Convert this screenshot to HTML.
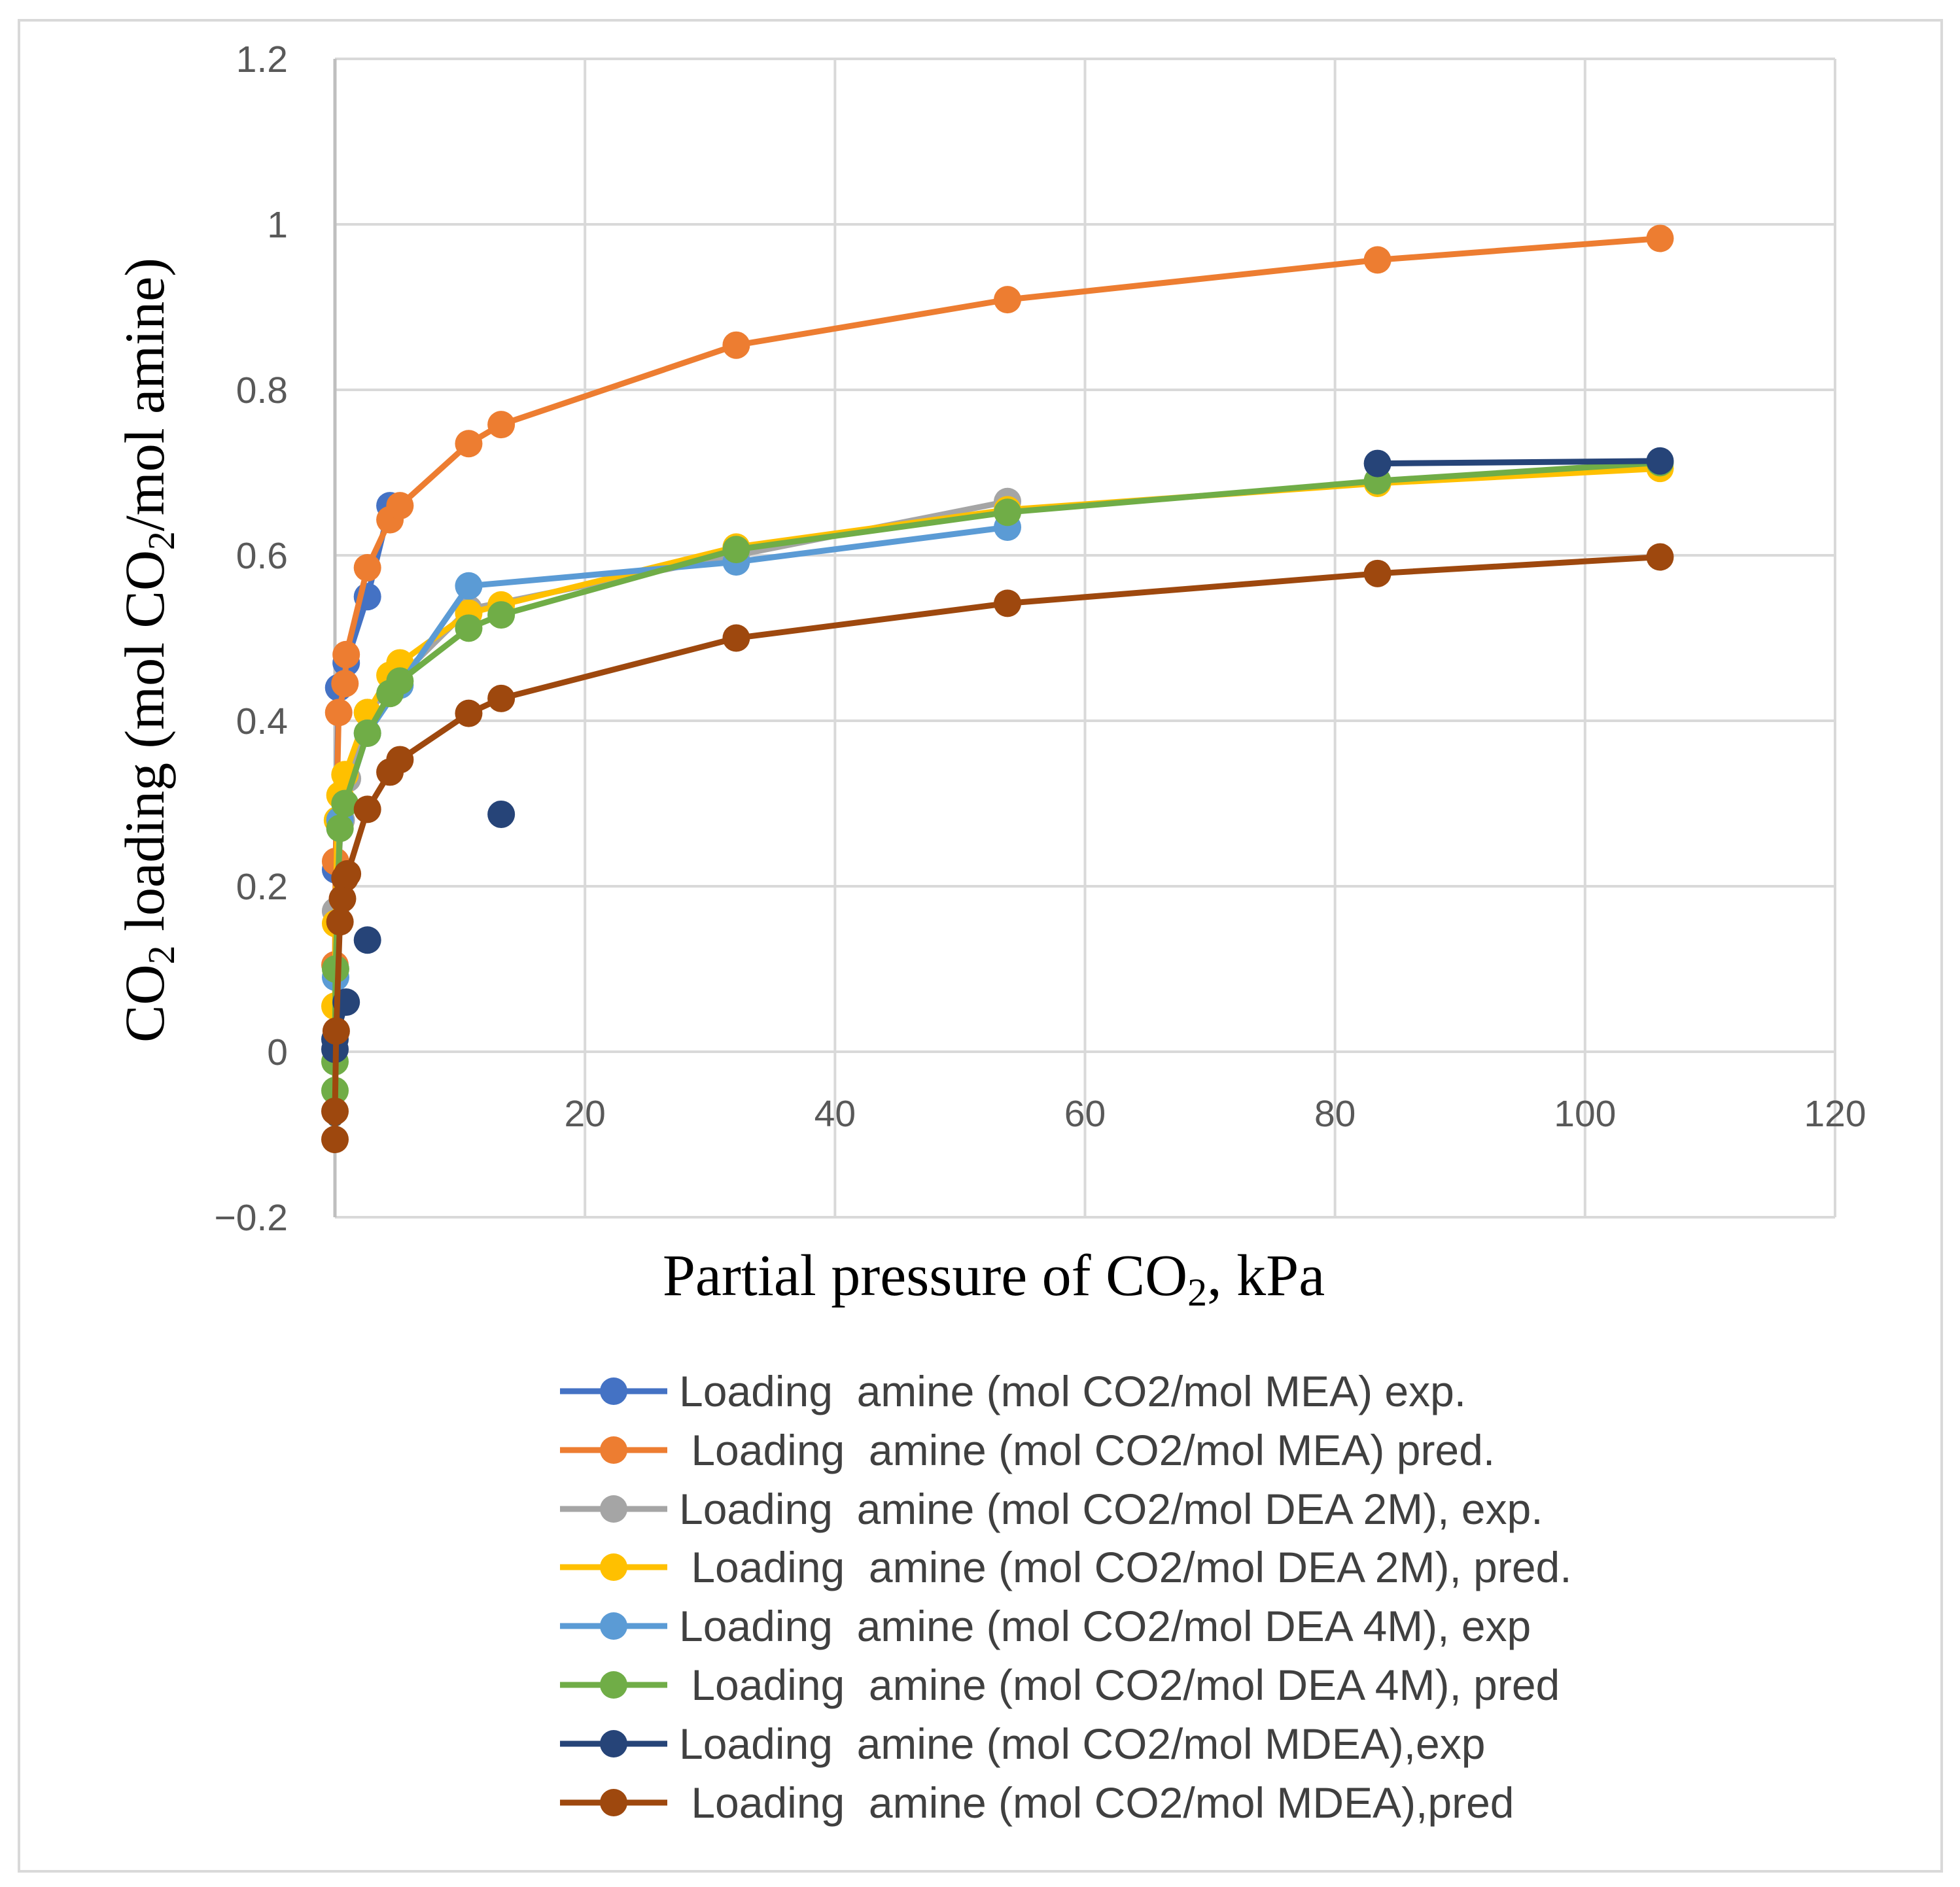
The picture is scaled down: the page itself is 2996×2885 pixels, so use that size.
<!DOCTYPE html>
<html><head><meta charset="utf-8"><style>
html,body{margin:0;padding:0;background:#fff;}
svg{display:block;}
</style></head><body>
<svg id="chart" width="2996" height="2885" viewBox="0 0 2996 2885" xmlns="http://www.w3.org/2000/svg">
<rect x="29" y="31" width="2939" height="2830" fill="#fff" stroke="#d9d9d9" stroke-width="4"/>
<g id="grid"></g>
<g id="ticks" font-family="Liberation Sans, sans-serif" font-size="57" fill="#595959"></g>
<g id="series"></g>
<text transform="translate(250,994) rotate(-90)" text-anchor="middle" font-family="Liberation Serif, serif" font-size="86" fill="#000">CO<tspan font-size="58" dy="16">2</tspan><tspan dy="-16"> loading (mol CO</tspan><tspan font-size="58" dy="16">2</tspan><tspan dy="-16">/mol amine)</tspan></text>
<text x="1519" y="1980" text-anchor="middle" font-family="Liberation Serif, serif" font-size="90" fill="#000">Partial pressure of CO<tspan font-size="60" dy="16">2</tspan><tspan dy="-16">, kPa</tspan></text>
<g id="legend" font-family="Liberation Sans, sans-serif" font-size="66" fill="#404040"></g>
</svg>
<script>
const xTicks = [0, 20, 40, 60, 80, 100, 120];
const yTicks = [-0.2, 0, 0.2, 0.4, 0.6, 0.8, 1, 1.2];
const yTickLabels = ["\u22120.2", "0", "0.2", "0.4", "0.6", "0.8", "1", "1.2"];
const seriesNames = [
 "Loading  amine (mol CO2/mol MEA) exp.",
 " Loading  amine (mol CO2/mol MEA) pred.",
 "Loading  amine (mol CO2/mol DEA 2M), exp.",
 " Loading  amine (mol CO2/mol DEA 2M), pred.",
 "Loading  amine (mol CO2/mol DEA 4M), exp",
 " Loading  amine (mol CO2/mol DEA 4M), pred",
 "Loading  amine (mol CO2/mol MDEA),exp",
 " Loading  amine (mol CO2/mol MDEA),pred"];
const seriesColors = ["#4472C4","#ED7D31","#A5A5A5","#FFC000","#5B9BD5","#70AD47","#264478","#9E480E"];
const meaExpX = [0.05, 0.3, 0.9, 2.6, 4.4];
const meaExpY = [0.22, 0.44, 0.47, 0.55, 0.66];
const meaPredX = [0, 0.05, 0.3, 0.8, 0.9, 2.6, 4.4, 5.2, 10.7, 13.3, 32.1, 53.8, 83.4, 106];
const meaPredY = [0.105, 0.23, 0.41, 0.445, 0.48, 0.585, 0.643, 0.66, 0.735, 0.758, 0.854, 0.909, 0.957, 0.983];
const dea2ExpX = [0.05, 0.5, 1, 2.6, 5, 10.7, 32.1, 53.8];
const dea2ExpY = [0.17, 0.28, 0.33, 0.41, 0.45, 0.535, 0.6, 0.665];
const dea2PredX = [0, 0.05, 0.2, 0.4, 0.8, 2.6, 4.4, 5.2, 10.7, 13.3, 32.1, 53.8, 83.4, 106];
const dea2PredY = [0.055, 0.155, 0.28, 0.31, 0.335, 0.41, 0.455, 0.47, 0.53, 0.54, 0.61, 0.655, 0.687, 0.705];
const dea4ExpX = [0.05, 0.4, 2.6, 5.2, 10.7, 32.1, 53.8];
const dea4ExpY = [0.09, 0.28, 0.385, 0.443, 0.563, 0.592, 0.634];
const dea4PredX = [0, 0, 0.05, 0.4, 0.8, 2.6, 4.4, 5.2, 10.7, 13.3, 32.1, 53.8, 83.4, 106];
const dea4PredY = [-0.047, -0.012, 0.1, 0.27, 0.3, 0.385, 0.433, 0.448, 0.512, 0.528, 0.607, 0.652, 0.69, 0.712];
const mdeaExpX = [0, 0, 0, 0.9, 0, 2.6, 0, 13.3, 0, 83.4, 106];
const mdeaExpY = [0.003, null, 0.015, 0.06, null, 0.135, null, 0.287, null, 0.711, 0.714];
const mdeaPredX = [0, 0, 0.1, 0.4, 0.6, 0.8, 1.0, 2.6, 4.4, 5.2, 10.7, 13.3, 32.1, 53.8, 83.4, 106];
const mdeaPredY = [-0.106, -0.072, 0.025, 0.157, 0.185, 0.21, 0.215, 0.293, 0.338, 0.353, 0.409, 0.427, 0.5, 0.542, 0.578, 0.598];

const NS = "http://www.w3.org/2000/svg";
const X0 = 512, X1 = 2805, Y0 = 1861, Y1 = 90;
function sx(v){ return X0 + (v - 0) / 120 * (X1 - X0); }
function sy(v){ return Y0 - (v + 0.2) / 1.4 * (Y0 - Y1); }
function mk(tag, attrs, parent){ const e = document.createElementNS(NS, tag); for (const k in attrs) e.setAttribute(k, attrs[k]); parent.appendChild(e); return e; }

const grid = document.getElementById('grid');
yTicks.forEach(t => {
  const l = mk('line', {x1: X0, x2: X1, y1: sy(t), y2: sy(t), stroke: '#d9d9d9', 'stroke-width': 4}, grid);
  
  
});
xTicks.forEach(t => {
  const l = mk('line', {x1: sx(t), x2: sx(t), y1: Y1, y2: Y0, stroke: t === 0 ? '#bfbfbf' : '#d9d9d9', 'stroke-width': t === 0 ? 5 : 4}, grid);
  
  
});
const ticks = document.getElementById('ticks');
yTicks.forEach((t, i) => {
  const e = mk('text', {x: 440, y: sy(t) + 20, 'text-anchor': 'end'}, ticks);
  e.textContent = yTickLabels[i];
  
  
});
xTicks.forEach(t => {
  const e = mk('text', {x: sx(t), y: 1722, 'text-anchor': 'middle'}, ticks);
  e.textContent = String(t);
  
  
});

const allX = [meaExpX, meaPredX, dea2ExpX, dea2PredX, dea4ExpX, dea4PredX, mdeaExpX, mdeaPredX];
const allY = [meaExpY, meaPredY, dea2ExpY, dea2PredY, dea4ExpY, dea4PredY, mdeaExpY, mdeaPredY];
const seriesG = document.getElementById('series');
allX.forEach((xs, si) => {
  const ys = allY[si];
  const g = mk('g', {}, seriesG);
  
  
  let d = '', pen = false;
  xs.forEach((x, i) => {
    if (ys[i] === null) { pen = false; return; }
    d += (pen ? 'L' : 'M') + sx(x).toFixed(1) + ' ' + sy(ys[i]).toFixed(1) + ' ';
    pen = true;
  });
  const p = mk('path', {d: d, fill: 'none', stroke: seriesColors[si], 'stroke-width': 9, 'stroke-linejoin': 'round', 'stroke-linecap': 'round'}, g);
  
  
  xs.forEach((x, i) => {
    if (ys[i] === null) return;
    const c = mk('circle', {cx: sx(x), cy: sy(ys[i]), r: 21, fill: seriesColors[si]}, g);
    
    
  });
});

const legend = document.getElementById('legend');
const legendY = [2127, 2217, 2307, 2396, 2486, 2576, 2666, 2756];
seriesNames.forEach((n, i) => {
  const g = mk('g', {}, legend);
  
  
  mk('line', {x1: 856, x2: 1020, y1: legendY[i], y2: legendY[i], stroke: seriesColors[i], 'stroke-width': 9}, g);
  mk('circle', {cx: 938, cy: legendY[i], r: 21, fill: seriesColors[i]}, g);
  const t = mk('text', {x: 1038, y: legendY[i] + 23, 'xml:space': 'preserve'}, g);
  t.style.whiteSpace = 'pre';
  t.textContent = n;
});
</script>
</body></html>
